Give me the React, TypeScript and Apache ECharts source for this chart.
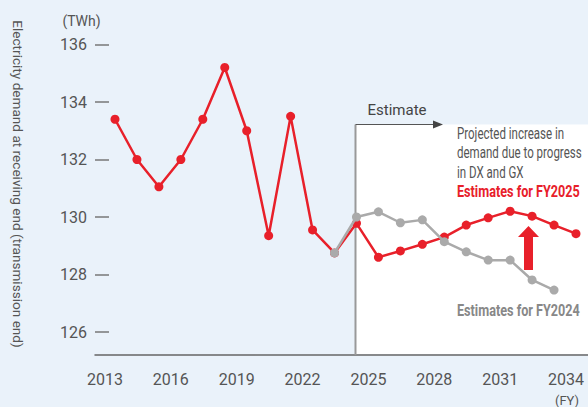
import React, { useEffect, useRef } from "react";
import * as echarts from "echarts";

const years = [2013, 2014, 2015, 2016, 2017, 2018, 2019, 2020, 2021, 2022, 2023, 2024, 2025, 2026, 2027, 2028, 2029, 2030, 2031, 2032, 2033, 2034];
const fy2025 = [133.4, 132.0, 131.05, 132.0, 133.4, 135.2, 133.0, 129.35, 133.5, 129.55, 128.75, 129.78, 128.6, 128.82, 129.05, 129.3, 129.72, 129.97, 130.2, 130.03, 129.72, 129.42];
const fy2024Years = [2023, 2024, 2025, 2026, 2027, 2028, 2029, 2030, 2031, 2032, 2033];
const fy2024 = [128.75, 130.0, 130.18, 129.8, 129.9, 129.14, 128.79, 128.5, 128.5, 127.81, 127.46];
const xTicks = [2013, 2016, 2019, 2022, 2025, 2028, 2031, 2034];
const yTicks = [126, 128, 130, 132, 134, 136];

const RED = "#e8202a";
const GRAY = "#aaaaaa";
const TXT = "#555555";
const FONT = "Roboto, 'Noto Sans', sans-serif";

export default function App() {
  const ref = useRef<HTMLDivElement>(null);
  useEffect(() => {
    document.body.style.margin = "0";
    const chart = echarts.init(ref.current!, null, { renderer: "svg" });
    chart.setOption({
      animation: false,
      backgroundColor: "#eaf2fa",
      textStyle: { fontFamily: FONT },
      grid: { left: 95, right: 0, top: 15.75, bottom: 52 },
      xAxis: {
        type: "value",
        min: 2012.089,
        max: 2034.547,
        splitLine: { show: false },
        axisTick: { show: false },
        axisLine: { show: true, lineStyle: { color: "#666", width: 1.5 } },
        axisLabel: {
          customValues: xTicks,
          formatter: (v: number) => String(v),
          color: TXT,
          fontSize: 16,
          fontFamily: FONT,
          margin: 16,
          padding: [0, 20, 0, 0],
        },
      },
      yAxis: {
        type: "value",
        min: 125.2,
        max: 137,
        splitLine: { show: false },
        axisLine: { show: false },
        axisTick: {
          show: true,
          inside: true,
          length: 14,
          customValues: yTicks,
          lineStyle: { color: "#777", width: 1.5 },
        },
        axisLabel: {
          customValues: yTicks,
          color: TXT,
          fontSize: 16,
          fontFamily: FONT,
          margin: 8,
        },
      },
      graphic: [
        { type: "rect", z: -10, shape: { x: 355.5, y: 124.5, width: 233, height: 229.5 }, style: { fill: "#ffffff" } },
        { type: "line", z: 1, shape: { x1: 355.5, y1: 124.5, x2: 355.5, y2: 355 }, style: { stroke: "#999", lineWidth: 2 } },
        { type: "line", z: 1, shape: { x1: 355.5, y1: 124.5, x2: 436, y2: 124.5 }, style: { stroke: "#555", lineWidth: 1 } },
        { type: "polygon", z: 1, shape: { points: [[433, 120.5], [443, 124.5], [433, 128.5]] }, style: { fill: "#444" } },
        { type: "text", z: 5, x: 397, y: 110, style: { text: "Estimate", font: `15px ${FONT}`, fill: "#444", align: "center", verticalAlign: "middle" } },
        { type: "text", z: 5, x: 457, y: 133, scaleX: 0.72, style: { text: "Projected increase in", font: `16px ${FONT}`, fill: "#555", verticalAlign: "middle" } },
        { type: "text", z: 5, x: 457, y: 152.5, scaleX: 0.72, style: { text: "demand due to progress", font: `16px ${FONT}`, fill: "#555", verticalAlign: "middle" } },
        { type: "text", z: 5, x: 457, y: 172, scaleX: 0.72, style: { text: "in DX and GX", font: `16px ${FONT}`, fill: "#555", verticalAlign: "middle" } },
        { type: "text", z: 5, x: 457, y: 192, scaleX: 0.79, style: { text: "Estimates for FY2025", font: `bold 16px ${FONT}`, fill: RED, verticalAlign: "middle" } },
        { type: "text", z: 5, x: 457, y: 311, scaleX: 0.79, style: { text: "Estimates for FY2024", font: `bold 16px ${FONT}`, fill: "#888", verticalAlign: "middle" } },
        { type: "polygon", z: 5, shape: { points: [[524, 270], [533, 270], [533, 237], [539, 237], [528.5, 226], [518, 237], [524, 237]] }, style: { fill: RED } },
        { type: "text", z: 5, x: 18, y: 184, rotation: -Math.PI / 2, style: { text: "Electricity demand at receiving end (transmission end)", font: `13.6px ${FONT}`, fill: TXT, align: "center", verticalAlign: "middle" } },
        { type: "text", z: 5, x: 81.5, y: 20.5, style: { text: "(TWh)", font: `14px ${FONT}`, fill: TXT, align: "center", verticalAlign: "middle" } },
        { type: "text", z: 5, x: 567, y: 400, style: { text: "(FY)", font: `13px ${FONT}`, fill: TXT, align: "center", verticalAlign: "middle" } },
      ],
      series: [
        {
          type: "line",
          name: "Estimates for FY2025",
          data: years.map((y, i) => [y, fy2025[i]]),
          symbol: "circle",
          symbolSize: 9,
          itemStyle: { color: RED },
          lineStyle: { color: RED, width: 2.5 },
          z: 3,
        },
        {
          type: "line",
          name: "Estimates for FY2024",
          data: fy2024Years.map((y, i) => [y, fy2024[i]]),
          symbol: "circle",
          symbolSize: 9,
          itemStyle: { color: GRAY },
          lineStyle: { color: GRAY, width: 2.5 },
          z: 4,
        },
      ],
    });
    return () => chart.dispose();
  }, []);
  return <div ref={ref} style={{ width: 588, height: 407 }} />;
}
